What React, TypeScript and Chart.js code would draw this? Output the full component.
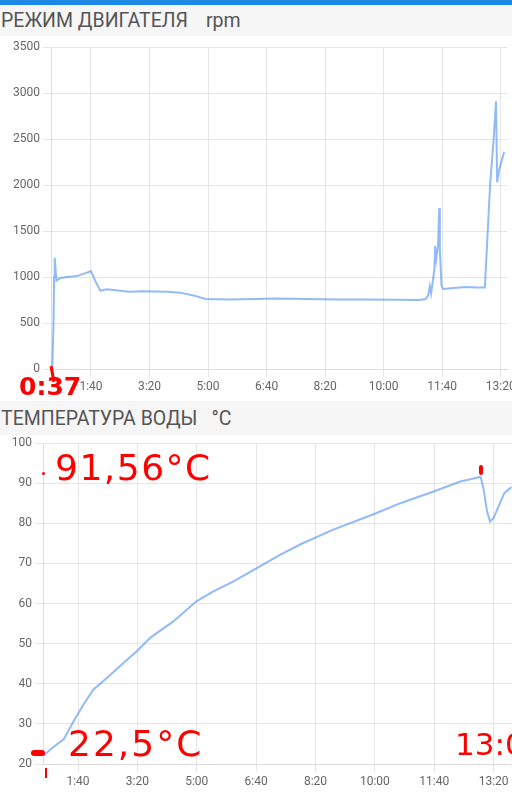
import React, { useEffect, useRef } from 'react';
import { Chart, registerables } from 'chart.js';

Chart.register(...registerables);
Chart.defaults.font.family = 'Roboto';

// ---- Engine RPM (x in seconds) ----
const rpmTime = [34, 36, 37, 38, 41, 48, 59, 76, 93, 100, 108, 116, 127, 150, 164, 190, 230, 252, 275, 296, 338, 380, 420, 470, 520, 570, 620, 660, 672, 676, 679, 681, 684, 687, 688, 690, 693, 695, 696, 699, 702, 720, 740, 760, 773, 782, 788, 792, 794, 797, 801, 806];
const rpmValues = [30, 500, 1000, 1210, 960, 990, 1000, 1010, 1047, 1065, 950, 850, 866, 850, 840, 845, 840, 830, 800, 762, 755, 760, 765, 760, 755, 755, 752, 750, 760, 800, 900, 820, 950, 1100, 1340, 1200, 1340, 1750, 1300, 900, 870, 880, 890, 885, 885, 2010, 2500, 2910, 2030, 2150, 2250, 2360];

// ---- Water temperature ----
const tempTime = [42, 55, 76, 93, 110, 126, 149, 175, 199, 222, 261, 300, 328, 362, 407, 441, 474, 530, 602, 643, 699, 744, 770, 778, 783, 789, 794, 800, 818, 830];
const tempValues = [22.1, 23.8, 26.2, 30.8, 35, 38.6, 41.5, 45, 48.1, 51.5, 55.6, 60.6, 63, 65.5, 69.3, 72.2, 74.7, 78.4, 82.5, 85, 87.9, 90.4, 91.3, 91.6, 88.7, 82.9, 80.4, 81.3, 87.5, 89];

const xTickValues = [100, 200, 300, 400, 500, 600, 700, 800];

const rpmTitle = 'РЕЖИМ ДВИГАТЕЛЯ';
const rpmUnit = 'rpm';
const tempTitle = 'ТЕМПЕРАТУРА ВОДЫ';
const tempUnit = '°C';

const fmt = (v: number) => `${Math.floor(v / 60)}:${String(Math.round(v % 60)).padStart(2, '0')}`;

type Cfg = {
  xs: number[]; ys: number[];
  xMin: number; xMax: number;
  yMin: number; yMax: number; yStep: number;
  yWidth: number;
  padding: { top: number; bottom: number; left: number; right: number };
};

const zeroPad = (s: any) => { s.paddingLeft = 0; s.paddingRight = 0; s.paddingTop = 0; s.paddingBottom = 0; };

function makeChart(canvas: HTMLCanvasElement, c: Cfg) {
  return new Chart(canvas, {
    type: 'line',
    data: {
      datasets: [{
        data: c.xs.map((x, i) => ({ x, y: c.ys[i] })),
        borderColor: 'rgba(74,140,245,0.6)',
        borderWidth: 2,
        pointRadius: 0,
        tension: 0,
        fill: false,
      }],
    },
    options: {
      animation: false,
      responsive: false,
      layout: { autoPadding: false, padding: c.padding },
      plugins: { legend: { display: false }, tooltip: { enabled: false } },
      scales: {
        x: {
          type: 'linear',
          min: c.xMin,
          max: c.xMax,
          afterBuildTicks: (s: any) => {
            s.ticks = xTickValues.filter((v) => v > s.min && v <= s.max).map((v) => ({ value: v }));
          },
          afterFit: (s: any) => { s.height = 30; zeroPad(s); },
          ticks: { autoSkip: false, maxRotation: 0, color: '#666', font: { size: 12 }, callback: (v: any) => fmt(Number(v)) },
          grid: { color: '#e6e6e6', tickLength: 8 },
          border: { color: '#dcdcdc' },
        },
        y: {
          min: c.yMin,
          max: c.yMax,
          afterFit: (s: any) => { s.width = c.yWidth; zeroPad(s); },
          ticks: { stepSize: c.yStep, color: '#666', font: { size: 12 }, callback: (v: any) => String(v) },
          grid: { color: '#e6e6e6', tickLength: 8 },
          border: { color: '#dcdcdc' },
        },
      },
    },
  });
}

const stripStyle: React.CSSProperties = {
  background: '#f6f6f6',
  color: '#555',
  fontFamily: 'Roboto',
  fontSize: 19.5,
  display: 'flex',
  alignItems: 'center',
  paddingLeft: 1,
  boxSizing: 'border-box',
  whiteSpace: 'pre',
};

const red = '#ff0000';
const hand: React.CSSProperties = {
  position: 'absolute',
  color: red,
  fontFamily: 'DejaVu Sans',
  fontWeight: 'bold',
  lineHeight: 1,
  whiteSpace: 'pre',
};

export default function App() {
  const c1 = useRef<HTMLCanvasElement>(null);
  const c2 = useRef<HTMLCanvasElement>(null);

  useEffect(() => {
    document.body.style.margin = '0';
    const a = makeChart(c1.current!, {
      xs: rpmTime, ys: rpmValues, xMin: 31.7, xMax: 810.8,
      yMin: 0, yMax: 3500, yStep: 500, yWidth: 51,
      padding: { top: 11, bottom: 2, left: 0, right: 5 },
    });
    const b = makeChart(c2.current!, {
      xs: tempTime, ys: tempValues, xMin: 41, xMax: 831,
      yMin: 20, yMax: 100, yStep: 10, yWidth: 43,
      padding: { top: 8, bottom: 1, left: 0, right: 0 },
    });
    return () => { a.destroy(); b.destroy(); };
  }, []);

  return (
    <div style={{ position: 'relative', width: 512, height: 795, overflow: 'hidden', background: '#fff' }}>
      <div style={{ height: 5, background: '#1e88e5' }} />
      <div style={{ ...stripStyle, height: 31 }}>
        <span>{rpmTitle}</span><span style={{ marginLeft: 18 }}>{rpmUnit}</span>
      </div>
      <canvas ref={c1} width={512} height={365} style={{ display: 'block' }} />
      <div style={{ ...stripStyle, height: 34 }}>
        <span>{tempTitle}</span><span style={{ marginLeft: 14 }}>{tempUnit}</span>
      </div>
      <canvas ref={c2} width={512} height={360} style={{ display: 'block' }} />

      {/* handwritten red annotations */}
      <div style={{ position: 'absolute', left: 51, top: 366, width: 3, height: 16, background: red, transform: 'rotate(-10deg)' }} />
      <span style={{ ...hand, left: 19, top: 374, fontSize: 25 }}>0:37</span>
      <div style={{ position: 'absolute', left: 42, top: 472, width: 3, height: 3, background: red, borderRadius: 2 }} />
      <span style={{ ...hand, left: 55, top: 450, fontSize: 36, fontWeight: 'normal', letterSpacing: 1.5 }}>91,56°C</span>
      <div style={{ position: 'absolute', left: 479, top: 465, width: 4, height: 10, background: red, borderRadius: 2 }} />
      <div style={{ position: 'absolute', left: 31, top: 750, width: 14, height: 6, background: red, borderRadius: 3 }} />
      <div style={{ position: 'absolute', left: 45, top: 768, width: 2, height: 10, background: red }} />
      <span style={{ ...hand, left: 68, top: 726, fontSize: 36, fontWeight: 'normal', letterSpacing: 2 }}>22,5°C</span>
      <span style={{ ...hand, left: 455, top: 729, fontSize: 31, fontWeight: 'normal' }}>13:00</span>
    </div>
  );
}
